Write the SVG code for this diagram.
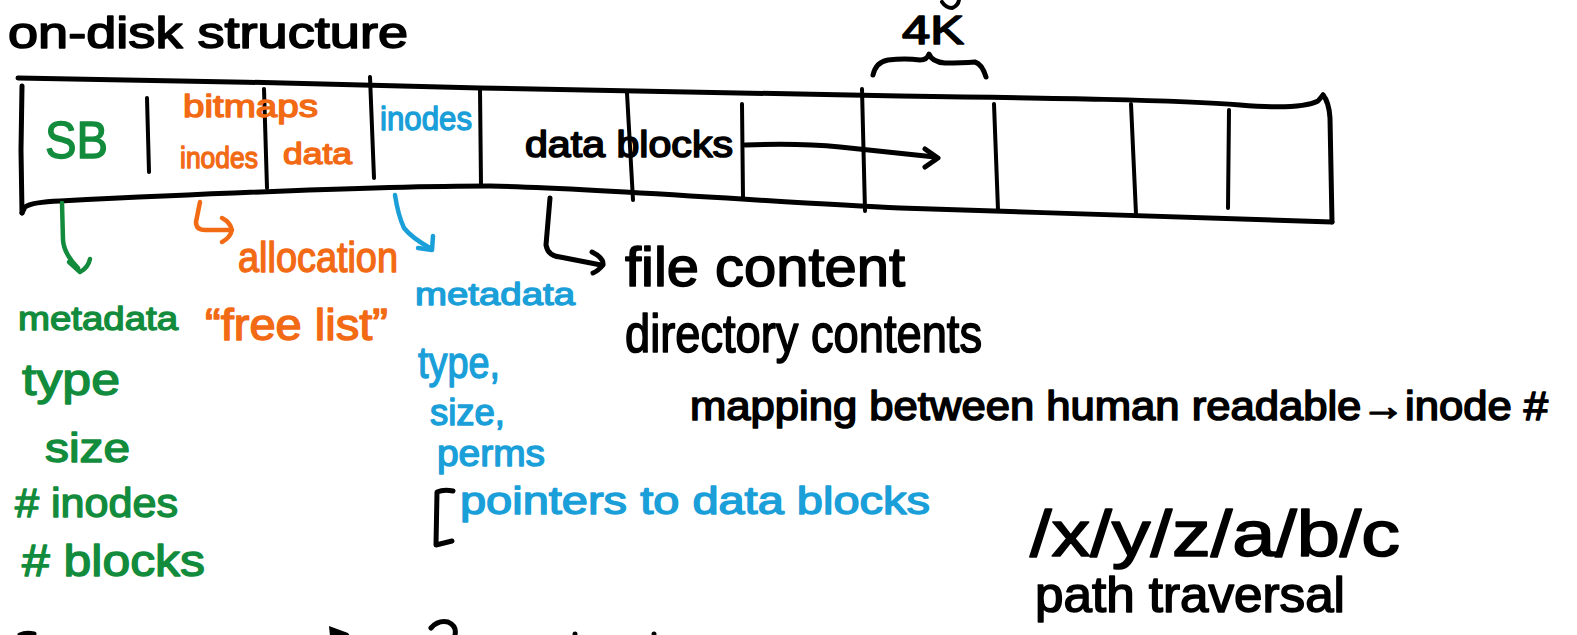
<svg xmlns="http://www.w3.org/2000/svg" width="1577" height="635" viewBox="0 0 1577 635">
<style>
  .ink{fill:none;stroke:#000;stroke-width:5;stroke-linecap:round;stroke-linejoin:round}
  .thin{stroke-width:4}
  .g{fill:none;stroke:#128c3c;stroke-width:4.5;stroke-linecap:round;stroke-linejoin:round}
  .o{fill:none;stroke:#f26a14;stroke-width:4.5;stroke-linecap:round;stroke-linejoin:round}
  .b{fill:none;stroke:#1a9fd9;stroke-width:4.5;stroke-linecap:round;stroke-linejoin:round}
  text{font-family:"Liberation Sans","DejaVu Sans",sans-serif;stroke-linejoin:round}
  .tk{fill:#000;stroke:#000;stroke-width:1.6}
  .tg{fill:#128c3c;stroke:#128c3c;stroke-width:1.4}
  .to{fill:#f26a14;stroke:#f26a14;stroke-width:1.4}
  .tb{fill:#1a9fd9;stroke:#1a9fd9;stroke-width:1.4}
</style>
<rect width="1577" height="635" fill="#fff"/>

<g id="title">
  <text class="tk" x="8" y="48" font-size="44" textLength="400" lengthAdjust="spacingAndGlyphs">on-disk structure</text>
</g>

<g id="disk-tape">
  <path class="ink" d="M18,78 C150,80 350,84 480,88 C640,92 780,95 900,96 C1050,98 1180,100 1240,105 Q1300,110 1318,101 L1323,95"/>
  <path class="ink" d="M1323,95 Q1329,102 1330,118 L1332,222"/>
  <path class="ink" d="M22,86 L21,150 L22,213"/>
  <path class="ink" d="M22,213 L25,207 Q32,202 60,201 C200,194 380,186 490,186 C600,188 780,203 900,208 C1050,213 1250,219 1332,222"/>
  <path class="ink thin" d="M147,98 L149,172"/>
  <path class="ink thin" d="M264,89 L267,188"/>
  <path class="ink thin" d="M370,77 L374,178"/>
  <path class="ink thin" d="M480,89 L481,185"/>
  <path class="ink thin" d="M627,93 L633,200"/>
  <path class="ink thin" d="M742,104 L743,198"/>
  <path class="ink thin" d="M862,89 L865,211"/>
  <path class="ink thin" d="M994,104 L998,210"/>
  <path class="ink thin" d="M1131,104 L1136,214"/>
  <path class="ink thin" d="M1229,110 L1228,208"/>
</g>

<g id="cell-sb">
  <text class="tg" x="45" y="158" font-size="52" textLength="63" lengthAdjust="spacingAndGlyphs">SB</text>
</g>
<g id="cell-bitmaps">
  <text class="to" x="183" y="117" font-size="32" textLength="135" lengthAdjust="spacingAndGlyphs">bitmaps</text>
  <text class="to" x="180" y="168" font-size="30" textLength="78" lengthAdjust="spacingAndGlyphs">inodes</text>
  <text class="to" x="283" y="164" font-size="30" textLength="69" lengthAdjust="spacingAndGlyphs">data</text>
</g>
<g id="cell-inodes">
  <text class="tb" x="380" y="130" font-size="34" textLength="92" lengthAdjust="spacingAndGlyphs">inodes</text>
</g>
<g id="cell-data-blocks">
  <text class="tk" x="525" y="157" font-size="36" textLength="208" lengthAdjust="spacingAndGlyphs">data blocks</text>
</g>
<g id="block-size">
  <text class="tk" x="902" y="44" font-size="40" textLength="62" lengthAdjust="spacingAndGlyphs">4K</text>
  <path class="ink" d="M873,75 Q876,62 888,60 Q905,58 920,60 Q927,60 929,54 Q932,62 945,63 Q962,63 975,62 Q982,64 986,77"/>
  <path class="ink thin" d="M942,2 Q946,8 952,8 Q958,6 959,0"/>
</g>

<g id="connectors">
  <path class="ink" d="M745,145 Q800,143 840,147 Q880,151 935,157"/>
  <path class="ink" d="M925,149 L938,158 L925,167"/>
  <path class="g" d="M62,203 L63,240 Q64,254 78,268"/>
  <path class="g" d="M69,262 L80,272 Q88,268 90,259"/>
  <path class="o" d="M200,202 L196,222 Q196,230 205,230 L230,230"/>
  <path class="o" d="M222,218 Q230,222 232,230 Q230,238 222,242"/>
  <path class="b" d="M395,195 Q398,215 404,228 Q412,238 430,248"/>
  <path class="b" d="M433,236 L432,250 L418,248"/>
  <path class="ink" d="M550,198 L546,245 Q548,256 560,257 L601,265"/>
  <path class="ink" d="M592,252 Q604,258 603,265 Q598,271 593,273"/>
</g>

<g id="sb-notes">
  <text class="tg" x="18" y="330" font-size="34" textLength="160" lengthAdjust="spacingAndGlyphs">metadata</text>
  <text class="tg" x="22" y="395" font-size="44" textLength="98" lengthAdjust="spacingAndGlyphs">type</text>
  <text class="tg" x="45" y="462" font-size="40" textLength="85" lengthAdjust="spacingAndGlyphs">size</text>
  <text class="tg" x="15" y="517" font-size="40" textLength="163" lengthAdjust="spacingAndGlyphs"># inodes</text>
  <text class="tg" x="22" y="576" font-size="44" textLength="183" lengthAdjust="spacingAndGlyphs"># blocks</text>
</g>

<g id="bitmap-notes">
  <text class="to" x="238" y="272" font-size="42" textLength="160" lengthAdjust="spacingAndGlyphs">allocation</text>
  <text class="to" x="205" y="340" font-size="44" textLength="183" lengthAdjust="spacingAndGlyphs">“free list”</text>
</g>

<g id="inode-notes">
  <text class="tb" x="415" y="305" font-size="32" textLength="160" lengthAdjust="spacingAndGlyphs">metadata</text>
  <text class="tb" x="418" y="378" font-size="44" textLength="82" lengthAdjust="spacingAndGlyphs">type,</text>
  <text class="tb" x="430" y="425" font-size="36" textLength="75" lengthAdjust="spacingAndGlyphs">size,</text>
  <text class="tb" x="437" y="466" font-size="36" textLength="108" lengthAdjust="spacingAndGlyphs">perms</text>
  <path class="ink" d="M453,491 Q444,489 437,492 L436,545 Q444,543 452,541"/>
  <text class="tb" x="460" y="514" font-size="38" textLength="470" lengthAdjust="spacingAndGlyphs">pointers to data blocks</text>
</g>

<g id="data-notes">
  <text class="tk" x="625" y="286" font-size="56" textLength="280" lengthAdjust="spacingAndGlyphs">file content</text>
  <text class="tk" x="625" y="352" font-size="54" textLength="357" lengthAdjust="spacingAndGlyphs">directory contents</text>
  <text class="tk" x="690" y="420" font-size="40" textLength="858" lengthAdjust="spacingAndGlyphs">mapping between human readable→inode #</text>
  <text class="tk" x="1030" y="556" font-size="64" textLength="370" lengthAdjust="spacingAndGlyphs">/x/y/z/a/b/c</text>
  <text class="tk" x="1035" y="612" font-size="50" textLength="310" lengthAdjust="spacingAndGlyphs">path traversal</text>
</g>

<g id="cut-off-bottom">
  <path class="ink" d="M20,635 Q26,632 34,634"/>
  <path d="M329,626 L348,633 L350,636 L330,636 Z" fill="#000"/>
  <path class="ink" d="M431,628 Q438,620 448,622 Q457,626 455,635"/>
  <circle cx="575" cy="634" r="2.5" fill="#000"/>
  <circle cx="654" cy="634" r="2.5" fill="#000"/>
</g>
</svg>
